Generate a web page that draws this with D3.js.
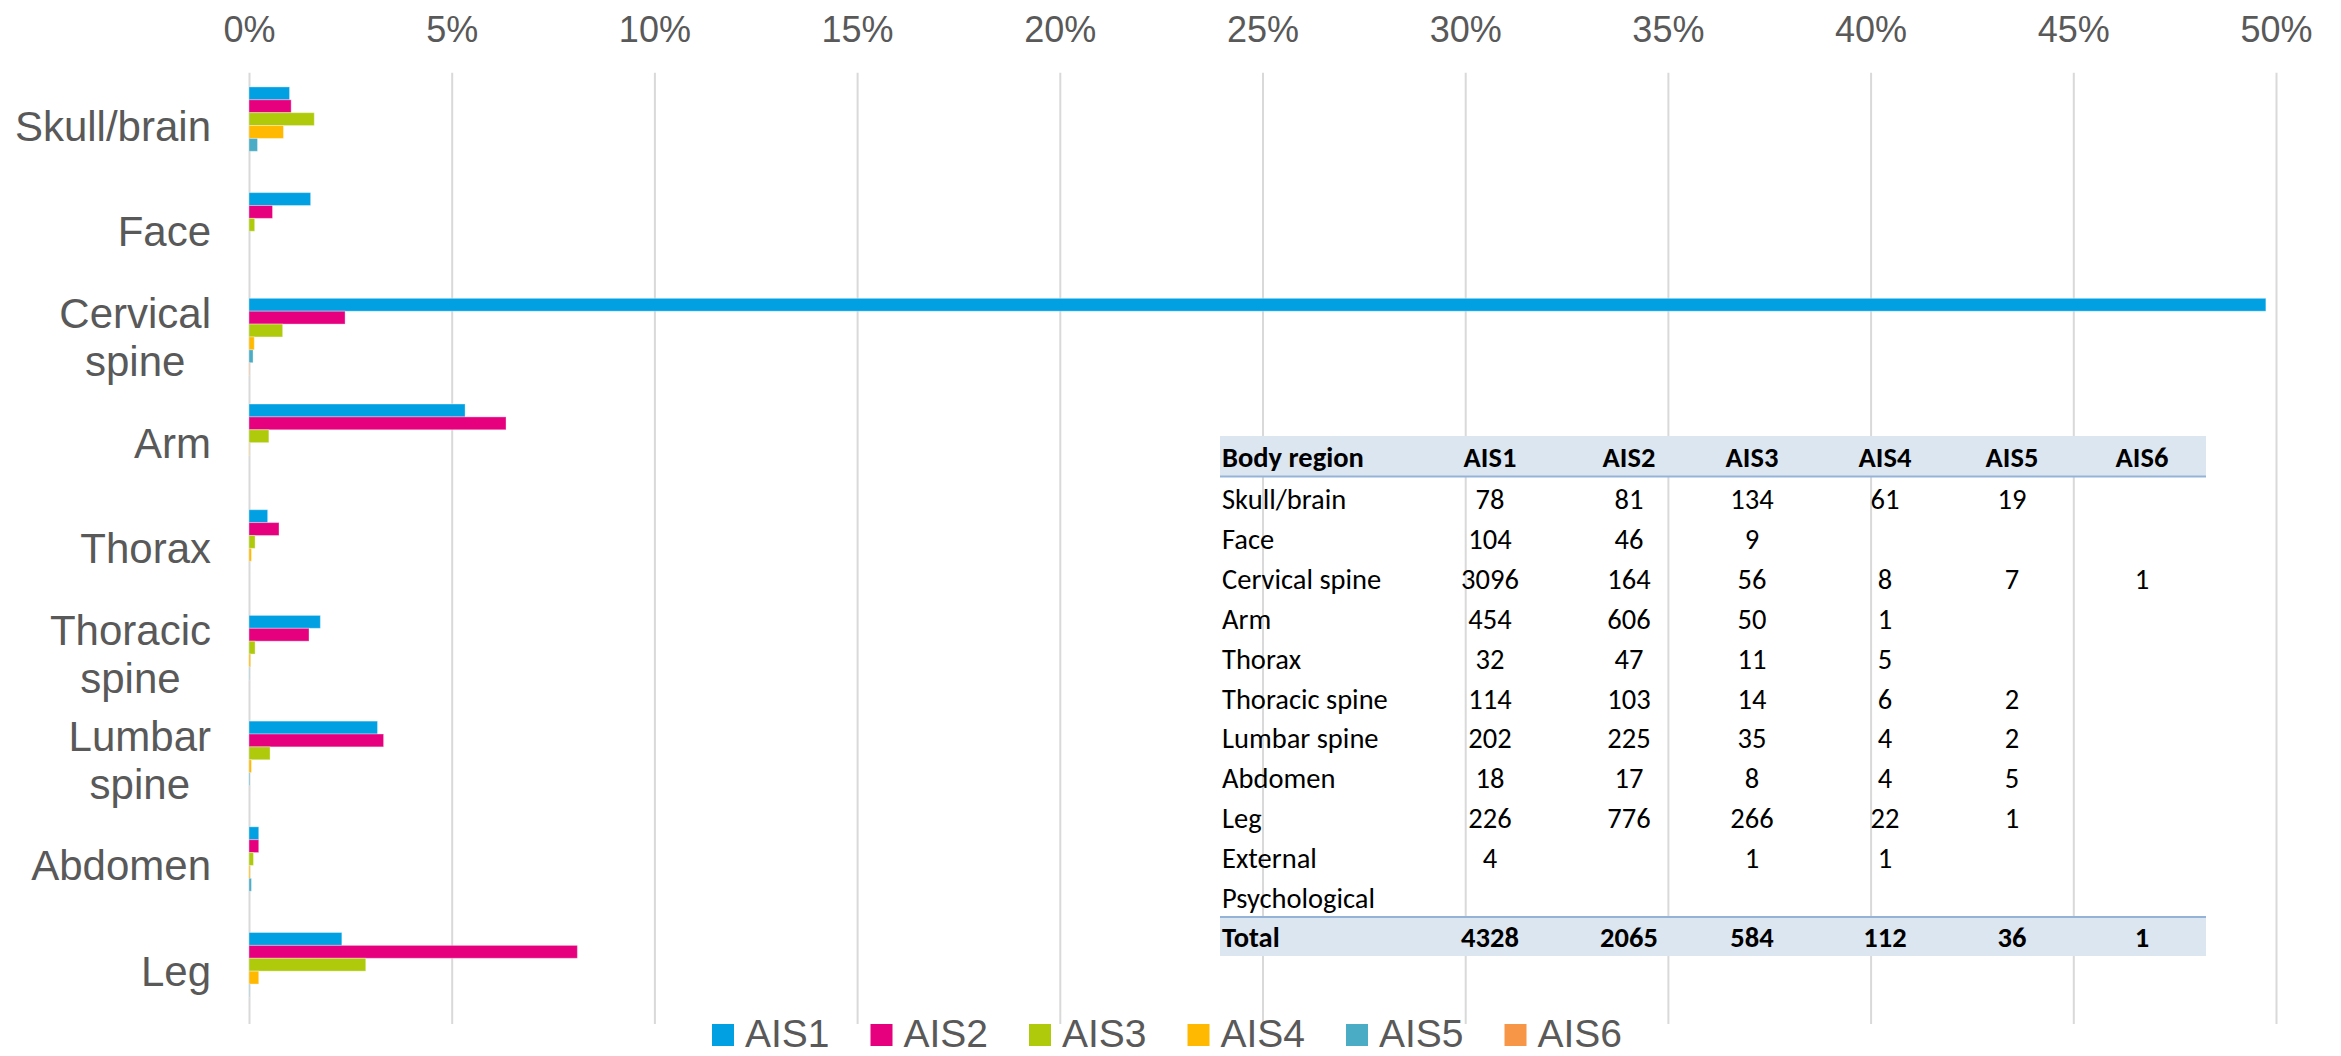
<!DOCTYPE html>
<html>
<head>
<meta charset="utf-8">
<script src="https://cdn.jsdelivr.net/npm/d3@7"></script>
<style>
  html, body { margin: 0; padding: 0; background: #fff; }
  svg { display: block; }
</style>
</head>
<body>
<script>
// Chart data (percent of injuries per body region and AIS level)
var categories = ['Skull/brain', 'Face', 'Cervical spine', 'Arm', 'Thorax',
  'Thoracic spine', 'Lumbar spine', 'Abdomen', 'Leg'];
var seriesNames = ['AIS1', 'AIS2', 'AIS3', 'AIS4', 'AIS5', 'AIS6'];
var seriesColors = ['#00a0e3', '#e6007e', '#afca0b', '#ffb900', '#4bacc6', '#f79646'];

var ais1 = [1.00, 1.52, 49.75, 5.33, 0.46, 1.76, 3.17, 0.24, 2.29];
var ais2 = [1.04, 0.58, 2.37, 6.34, 0.74, 1.48, 3.32, 0.24, 8.10];
var ais3 = [1.61, 0.14, 0.83, 0.49, 0.15, 0.15, 0.52, 0.11, 2.88];
var ais4 = [0.85, 0.00, 0.13, 0.01, 0.06, 0.04, 0.06, 0.03, 0.24];
var ais5 = [0.21, 0.00, 0.10, 0.00, 0.00, 0.01, 0.02, 0.06, 0.01];
var ais6 = [0.00, 0.00, 0.01, 0.00, 0.00, 0.00, 0.00, 0.00, 0.00];
var seriesValues = [ais1, ais2, ais3, ais4, ais5, ais6];

var xTicks = [0, 5, 10, 15, 20, 25, 30, 35, 40, 45, 50];

// Inset table data
var tableColumns = ['Body region', 'AIS1', 'AIS2', 'AIS3', 'AIS4', 'AIS5', 'AIS6'];
var tableRegions = ['Skull/brain', 'Face', 'Cervical spine', 'Arm', 'Thorax', 'Thoracic spine',
  'Lumbar spine', 'Abdomen', 'Leg', 'External', 'Psychological'];
var tableCounts = [
  [78, 81, 134, 61, 19, ''],
  [104, 46, 9, '', '', ''],
  [3096, 164, 56, 8, 7, 1],
  [454, 606, 50, 1, '', ''],
  [32, 47, 11, 5, '', ''],
  [114, 103, 14, 6, 2, ''],
  [202, 225, 35, 4, 2, ''],
  [18, 17, 8, 4, 5, ''],
  [226, 776, 266, 22, 1, ''],
  [4, '', 1, 1, '', ''],
  ['', '', '', '', '', '']
];
var tableTotals = ['Total', 4328, 2065, 584, 112, 36, 1];

var width = 2341;
var height = 1056;
var margin = { top: 72.7, right: 65, bottom: 32, left: 249 };

var axisFont = '"Liberation Sans", Arial, sans-serif';
var tableFont = 'Carlito, Lato, "Liberation Sans", sans-serif';
var textColor = '#595959';

var svg = d3.select('body').append('svg')
  .attr('width', width)
  .attr('height', height);

var x = d3.scaleLinear()
  .domain([0, 50])
  .range([margin.left, width - margin.right]);

var y0 = d3.scaleBand()
  .domain(categories)
  .range([margin.top, height - margin.bottom])
  .paddingInner(0.269)
  .paddingOuter(0.1345);

var y1 = d3.scaleBand()
  .domain(seriesNames)
  .range([0, y0.bandwidth()]);

var plotHeight = height - margin.bottom - margin.top;

// Top axis with gridlines
var xAxis = d3.axisTop(x)
  .tickValues(xTicks)
  .tickSize(-plotHeight)
  .tickPadding(31)
  .tickFormat(function(d) { return d + '%'; });

var gx = svg.append('g')
  .attr('class', 'x-axis')
  .attr('transform', 'translate(0,' + margin.top + ')')
  .call(xAxis);

gx.select('.domain').remove();
gx.selectAll('line')
  .attr('stroke', '#d9d9d9')
  .attr('stroke-width', 2);
gx.selectAll('text')
  .attr('fill', textColor)
  .style('font-family', axisFont)
  .style('font-size', '36px');

// Bars
var groups = svg.append('g')
  .selectAll('.cat')
  .data(categories)
  .enter()
  .append('g')
  .attr('class', 'cat')
  .attr('transform', function(d) { return 'translate(0,' + y0(d) + ')'; });

groups.selectAll('rect')
  .data(function(d, i) {
    return seriesNames.map(function(s, j) {
      return { series: s, value: seriesValues[j][i], color: seriesColors[j] };
    });
  })
  .enter()
  .append('rect')
  .attr('x', x(0))
  .attr('y', function(d) { return y1(d.series); })
  .attr('width', function(d) { return x(d.value) - x(0); })
  .attr('height', y1.bandwidth())
  .attr('fill', function(d) { return d.color; })
  .attr('stroke', '#fff')
  .attr('stroke-opacity', 0.35)
  .attr('stroke-width', function(d) { return d.value > 0 ? 1 : 0; });

// Category labels (wrapped and centered like Excel)
var labelRight = 211;
var labels = svg.append('g')
  .attr('class', 'y-labels')
  .selectAll('text')
  .data(categories)
  .enter()
  .append('text')
  .attr('fill', textColor)
  .style('font-family', axisFont)
  .style('font-size', '42px')
  .attr('text-anchor', 'middle');

labels.each(function(d) {
  var t = d3.select(this);
  var lines = d.split(' ');
  var center = y0(d) + y0.bandwidth() / 2;
  lines.forEach(function(line, k) {
    t.append('tspan')
      .attr('y', center + 15 + (k - (lines.length - 1) / 2) * 48)
      .text(line);
  });
  var maxW = 0;
  t.selectAll('tspan').each(function() {
    maxW = Math.max(maxW, this.getComputedTextLength());
  });
  t.selectAll('tspan').attr('x', labelRight - maxW / 2);
});

// Legend
var legend = svg.append('g')
  .attr('class', 'legend')
  .selectAll('g')
  .data(seriesNames)
  .enter()
  .append('g')
  .attr('transform', function(d, i) { return 'translate(' + (712 + i * 158.5) + ',0)'; });

legend.append('rect')
  .attr('x', 0)
  .attr('y', 1024)
  .attr('width', 22)
  .attr('height', 22)
  .attr('fill', function(d, i) { return seriesColors[i]; });

legend.append('text')
  .attr('x', 33)
  .attr('y', 1047)
  .attr('fill', textColor)
  .style('font-family', axisFont)
  .style('font-size', '39px')
  .text(function(d) { return d; });

// Inset table
var tableLeft = 1220;
var tableRight = 2206;
var colX = [1222, 1490, 1629, 1752, 1885, 2012, 2142];
var headerTop = 436;
var rowTop = 478;
var rowStep = 39.9;
var totalTop = 917;

var table = svg.append('g').attr('class', 'table')
  .style('font-family', tableFont)
  .style('font-size', '28.5px');

table.append('rect')
  .attr('x', tableLeft)
  .attr('y', headerTop)
  .attr('width', tableRight - tableLeft)
  .attr('height', 40)
  .attr('fill', '#dce6f1');
table.append('line')
  .attr('x1', tableLeft).attr('x2', tableRight)
  .attr('y1', headerTop + 40.5).attr('y2', headerTop + 40.5)
  .attr('stroke', '#95b3d7').attr('stroke-width', 2);

table.append('rect')
  .attr('x', tableLeft)
  .attr('y', totalTop)
  .attr('width', tableRight - tableLeft)
  .attr('height', 39)
  .attr('fill', '#dce6f1');
table.append('line')
  .attr('x1', tableLeft).attr('x2', tableRight)
  .attr('y1', totalTop).attr('y2', totalTop)
  .attr('stroke', '#95b3d7').attr('stroke-width', 2);

function tableRow(cells, baseline, bold) {
  cells.forEach(function(c, i) {
    table.append('text')
      .attr('x', colX[i])
      .attr('y', baseline)
      .attr('text-anchor', i === 0 ? 'start' : 'middle')
      .attr('fill', '#000')
      .style('font-weight', bold ? 'bold' : 'normal')
      .text(c);
  });
}

tableRow(tableColumns, headerTop + 31, true);
tableRegions.forEach(function(r, i) {
  tableRow([r].concat(tableCounts[i]), rowTop + i * rowStep + 31, false);
});
tableRow(tableTotals, totalTop + 30, true);
</script>
</body>
</html>
